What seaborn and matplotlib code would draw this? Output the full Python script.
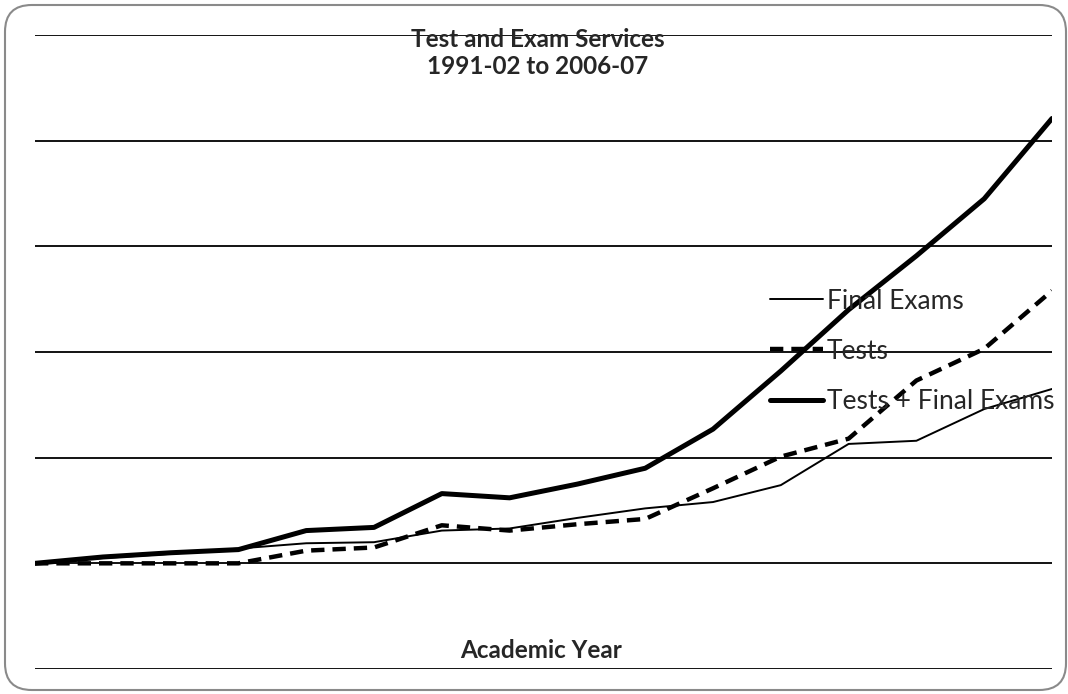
import matplotlib.pyplot as plt
import pandas as pd
import seaborn as sns
from matplotlib.patches import FancyBboxPatch

sns.set_theme(style="white")
plt.rcParams['font.family'] = ['Lato', 'DejaVu Sans']

# academic years (no tick labels shown on the chart)
years = ["1991-92", "1992-93", "1993-94", "1994-95", "1995-96", "1996-97", "1997-98", "1998-99",
         "1999-00", "2000-01", "2001-02", "2002-03", "2003-04", "2004-05", "2005-06", "2006-07"]

# values (relative scale, one gridline = 1 unit)
final_exams = [0, 0.05, 0.09, 0.14, 0.19, 0.20, 0.31, 0.33, 0.43, 0.52, 0.58, 0.74, 1.13, 1.16, 1.46, 1.65]
tests = [0, 0, 0, 0, 0.12, 0.15, 0.36, 0.31, 0.37, 0.42, 0.71, 1.01, 1.18, 1.73, 2.03, 2.58]
tests_final = [0, 0.06, 0.10, 0.13, 0.31, 0.34, 0.66, 0.62, 0.75, 0.90, 1.27, 1.82, 2.40, 2.91, 3.45, 4.21]

series = ["Final Exams", "Tests", "Tests + Final Exams"]
df = pd.DataFrame({
    "year": years * 3,
    "value": final_exams + tests + tests_final,
    "series": [series[0]] * 16 + [series[1]] * 16 + [series[2]] * 16,
})

fig = plt.figure(figsize=(10.68, 6.94), dpi=100)
ax = fig.add_axes([35 / 1068, 1 - 669 / 694, 1017 / 1068, 634 / 694])

sns.lineplot(data=df, x="year", y="value", hue="series", style="series", size="series",
             palette={s: "black" for s in series},
             sizes={"Final Exams": 1.4, "Tests": 3.2, "Tests + Final Exams": 3.6},
             dashes={"Final Exams": "", "Tests": (3, 1.8), "Tests + Final Exams": ""},
             ax=ax, legend=True)

ax.set_xlim(0, len(years) - 1)
ax.set_ylim(-1, 5)
ax.set_yticks(range(-1, 6))
ax.set_xticks([])
ax.set_yticklabels([])
ax.tick_params(left=False, bottom=False)
ax.grid(axis="y", color="black", linewidth=1.3)
ax.set_axisbelow(True)
sns.despine(ax=ax, left=True, bottom=True)
ax.set_xlabel("")
ax.set_ylabel("")

handles, labels = ax.get_legend_handles_labels()
hl = [(h, l) for h, l in zip(handles, labels) if l in series]
ax.legend([h for h, _ in hl], [l for _, l in hl], loc="upper left",
          bbox_to_anchor=(0.723, 0.60), frameon=False, fontsize=19,
          handlelength=2.0, handletextpad=0.15, labelspacing=0.95,
          borderpad=0, borderaxespad=0)

fig.text(538 / 1068, 1 - 53 / 694, "Test and Exam Services\n1991-02 to 2006-07",
         ha="center", va="center", fontsize=17.5, fontweight="bold", linespacing=1.22)
fig.text(541 / 1068, 1 - 650 / 694, "Academic Year", ha="center", va="center",
         fontsize=17.5, fontweight="bold")

border = FancyBboxPatch((5 / 1068, 4 / 694), 1061 / 1068, 685 / 694,
                        boxstyle="round,pad=0,rounding_size=0.025",
                        transform=fig.transFigure, fill=False,
                        edgecolor="#8a8a8a", linewidth=1.5, mutation_aspect=1068 / 694)
fig.patches.append(border)

plt.savefig("out.png", dpi=100)
